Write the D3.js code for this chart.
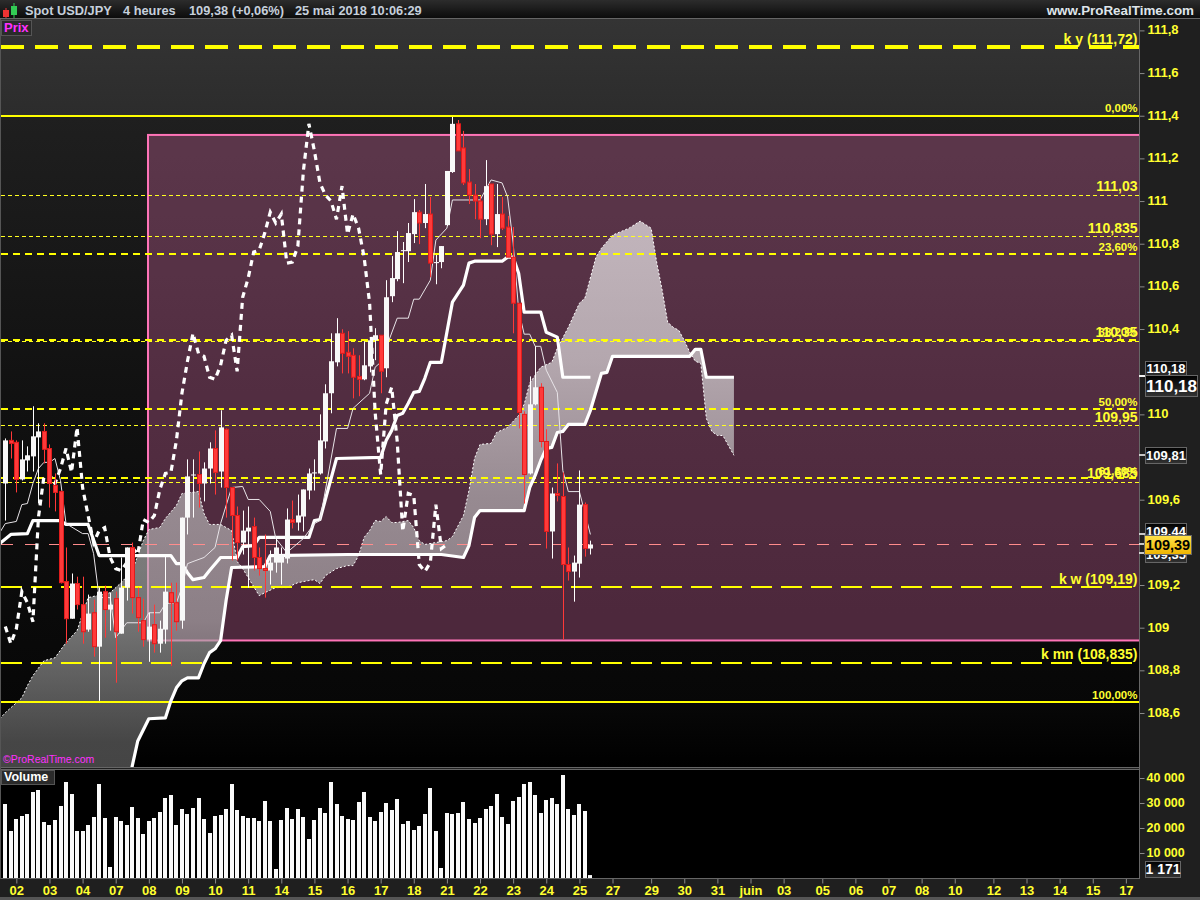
<!DOCTYPE html>
<html><head><meta charset="utf-8">
<script src="https://cdnjs.cloudflare.com/ajax/libs/d3/7.8.5/d3.min.js"></script>
<style>html,body{margin:0;padding:0;background:#1f1f1f}svg{display:block}text{font-family:"Liberation Sans",Arial,sans-serif}</style>
</head><body><svg id="c" width="1200" height="900"></svg>
<script>
// ---------- data ----------
const opens=[109.676,109.878,109.869,109.695,109.784,109.803,109.892,109.920,109.840,109.667,109.638,109.216,109.042,109.207,109.108,108.991,109.070,108.911,109.169,109.085,109.136,108.972,109.188,109.376,109.141,109.033,108.944,109.014,108.925,108.991,109.164,109.117,109.033,109.516,109.714,109.718,109.676,109.746,109.840,109.732,109.930,109.657,109.526,109.399,109.451,109.474,109.329,109.277,109.268,109.305,109.305,109.324,109.507,109.493,109.521,109.643,109.723,109.723,109.873,110.099,110.244,110.380,110.291,110.277,110.178,110.164,110.225,110.347,110.371,110.216,110.554,110.634,110.765,110.765,110.845,110.948,110.897,110.939,110.709,110.714,110.887,111.136,111.362,111.249,111.089,111.028,111.000,110.915,111.080,110.845,110.939,110.878,110.737,110.521,110.000,109.723,110.047,110.127,109.873,109.451,109.629,109.615,109.296,109.263,109.300,109.577,109.371];
const highs=[109.887,109.920,109.878,109.878,109.850,110.038,109.958,109.958,109.859,109.723,109.643,109.376,109.254,109.239,109.239,109.155,109.131,109.188,109.197,109.164,109.169,109.329,109.376,109.399,109.188,109.136,109.070,109.108,109.033,109.334,109.211,109.211,109.516,109.789,109.789,109.826,109.775,109.869,109.925,110.019,109.934,109.657,109.568,109.549,109.568,109.516,109.376,109.437,109.362,109.423,109.376,109.559,109.596,109.624,109.648,109.746,109.789,110.000,110.141,110.380,110.451,110.399,110.390,110.310,110.277,110.343,110.347,110.404,110.371,110.629,110.742,110.859,110.808,110.897,111.009,110.958,111.080,111.019,110.747,110.789,111.141,111.394,111.380,111.329,111.150,111.080,111.024,111.192,111.080,111.080,111.019,110.930,110.878,110.521,110.014,110.178,110.319,110.146,109.930,109.657,109.770,109.728,109.376,109.338,109.737,109.587,109.408];
const lows=[109.502,109.793,109.634,109.690,109.732,109.732,109.582,109.770,109.563,109.545,109.207,108.925,109.042,109.085,108.925,108.981,108.864,108.657,108.953,108.986,108.742,108.972,109.127,109.066,108.981,108.911,108.840,108.883,108.883,108.925,108.821,108.986,108.995,109.437,109.516,109.563,109.592,109.676,109.624,109.657,109.516,109.315,109.315,109.343,109.188,109.268,109.244,109.141,109.202,109.258,109.202,109.301,109.465,109.455,109.451,109.601,109.643,109.718,109.840,110.005,110.225,110.192,110.192,110.075,110.085,110.160,110.197,110.254,110.099,110.174,110.526,110.624,110.615,110.714,110.803,110.798,110.873,110.643,110.610,110.685,110.883,111.132,111.235,111.075,110.986,110.915,110.826,110.887,110.793,110.784,110.864,110.737,110.380,109.934,109.582,109.718,110.042,109.845,109.371,109.324,109.592,108.944,109.221,109.122,109.235,109.333,109.343];
const closes=[109.878,109.864,109.695,109.789,109.808,109.897,109.920,109.836,109.676,109.634,109.211,109.042,109.207,109.108,108.981,109.066,108.911,109.169,109.085,109.108,108.981,109.188,109.376,109.141,109.047,108.944,109.005,108.925,108.995,109.169,109.117,109.028,109.516,109.709,109.718,109.676,109.746,109.840,109.728,109.939,109.657,109.526,109.399,109.455,109.469,109.329,109.277,109.268,109.305,109.376,109.343,109.507,109.493,109.526,109.648,109.723,109.728,109.878,110.099,110.249,110.380,110.286,110.272,110.174,110.164,110.230,110.347,110.371,110.202,110.549,110.639,110.761,110.770,110.850,110.948,110.897,110.939,110.709,110.714,110.789,111.141,111.362,111.235,111.085,111.028,111.000,110.915,111.070,110.845,110.939,110.873,110.737,110.521,110.009,109.718,110.047,110.127,109.873,109.451,109.629,109.620,109.296,109.263,109.305,109.577,109.371,109.390];
const volumes=[29600,18800,23600,24800,25600,34400,35200,22400,21200,23200,28800,38400,33600,18800,18800,21200,24400,37600,24000,4400,24400,22800,21200,28400,24000,17600,22800,24000,26400,32000,33200,21200,27600,25600,28000,32000,23600,18000,24800,25200,27600,37600,27200,24800,24000,24000,22800,30800,22800,3600,23200,28000,23600,27600,24400,15600,23200,28000,26000,38400,29600,24800,23600,23200,30400,34400,24400,22800,26400,30000,27200,31600,21600,22800,19200,20800,25600,36000,18800,4000,26000,25600,26000,30400,23600,22000,24000,27600,28800,33600,24400,21600,30800,32400,37600,38400,33200,26000,31200,32000,29600,41200,27600,25200,29600,26800,1171];
const chikouValues=[109.005,108.925,108.995,109.169,109.117,109.028,109.516,109.709,109.718,109.676,109.746,109.840,109.728,109.939,109.657,109.526,109.399,109.455,109.469,109.329,109.277,109.268,109.305,109.376,109.343,109.507,109.493,109.526,109.648,109.723,109.728,109.878,110.099,110.249,110.380,110.286,110.272,110.174,110.164,110.230,110.347,110.371,110.202,110.549,110.639,110.761,110.770,110.850,110.948,110.897,110.939,110.709,110.714,110.789,111.141,111.362,111.235,111.085,111.028,111.000,110.915,111.070,110.845,110.939,110.873,110.737,110.521,110.009,109.718,110.047,110.127,109.873,109.451,109.629,109.620,109.296,109.263,109.305,109.577,109.371,109.390];
const kijunIdx=[-1,1,4,5,10,11,15,17,30,31,32,33,34,36,37,39,42,43,45,46,55,56,57,60,68,69,70,71,72,73,74,75,76,77,79,81,83,84,85,90,91,92,93,94,97,98,100,101,106];
const kijunVal=[109.394,109.437,109.441,109.502,109.502,109.484,109.484,109.338,109.338,109.300,109.300,109.258,109.225,109.235,109.268,109.329,109.329,109.380,109.385,109.423,109.423,109.502,109.507,109.793,109.798,109.878,109.925,109.995,110.005,110.052,110.103,110.108,110.169,110.244,110.244,110.526,110.606,110.709,110.718,110.718,110.737,110.737,110.662,110.479,110.479,110.385,110.362,110.174,110.174];
const tenkanIdx=[-1,0,2,3,4,5,6,7,8,9,10,11,14,15,16,17,19,20,22,25,26,28,29,31,32,33,34,36,38,39,41,43,44,46,48,49,51,54,56,57,60,62,63,66,67,68,71,73,74,75,77,78,80,81,86,88,90,91,92,93,94,95,96,97,98,100,101,102,104,106];
const tenkanVal=[109.446,109.488,109.498,109.577,109.582,109.676,109.746,109.775,109.775,109.793,109.690,109.488,109.441,109.441,109.347,109.141,109.141,108.953,109.023,109.023,109.070,109.070,109.113,109.117,109.188,109.300,109.310,109.329,109.376,109.488,109.657,109.662,109.601,109.601,109.545,109.418,109.352,109.418,109.488,109.502,109.934,109.934,110.028,110.099,110.221,110.244,110.451,110.451,110.540,110.540,110.629,110.817,110.873,111.005,111.005,111.099,111.085,111.019,110.803,110.488,110.376,110.376,110.319,110.319,110.207,110.103,109.737,109.638,109.638,109.437];
const spanAIdx=[-1,0,3,4,5,7,9,11,13,15,19,21,23,25,26,28,29,31,32,35,36,37,39,41,42,43,44,46,47,49,51,53,55,56,57,58,60,62,63,64,65,66,67,68,69,70,71,73,74,75,76,80,81,83,84,85,86,88,89,91,93,94,95,97,99,100,102,104,105,107,108,110,113,115,117,118,119,120,121,122,123,124,125,126,127,128,129,130,131,132];
const spanAVal=[108.573,108.601,108.671,108.728,108.775,108.845,108.859,108.930,108.986,109.141,109.164,109.211,109.268,109.408,109.460,109.470,109.512,109.573,109.629,109.638,109.535,109.484,109.484,109.455,109.310,109.277,109.235,109.150,109.164,109.188,109.188,109.211,109.221,109.225,109.207,109.244,109.277,109.291,109.291,109.338,109.423,109.455,109.502,109.498,109.521,109.493,109.493,109.502,109.469,109.408,109.390,109.408,109.427,109.526,109.643,109.793,109.859,109.864,109.915,109.939,109.995,110.047,110.146,110.221,110.244,110.310,110.408,110.521,110.545,110.737,110.779,110.840,110.873,110.906,110.873,110.714,110.582,110.432,110.408,110.394,110.347,110.291,110.249,110.239,109.981,109.920,109.901,109.901,109.854,109.808];
const spanBIdx=[-1,22,23,24,26,29,30,31,32,33,35,36,37,38,39,40,41,47,48,62,79,83,84,85,86,94,95,96,97,98,99,100,101,102,105,106,108,109,110,124,125,126,127,132];
const spanBVal=[108.0,108.2,108.352,108.469,108.573,108.577,108.657,108.718,108.751,108.765,108.765,108.831,108.883,108.901,108.939,109.127,109.282,109.286,109.338,109.343,109.343,109.329,109.385,109.516,109.549,109.549,109.657,109.714,109.784,109.840,109.845,109.915,109.920,109.953,109.953,110.019,110.192,110.197,110.272,110.272,110.305,110.305,110.174,110.174];
const rectTop=111.31, rectBottom=108.94, rectStartIdx=26, lastPrice=109.39;
const solidLevels=[111.4,108.65];
const longDashLevels=[111.72,109.19,108.835];
const fiboLevels=[110.75,110.35,110.025,109.70];
const thinLevels=[111.03,110.835,110.345,109.95,109.685];
const levelLabelPrices=[111.72,111.4,111.03,110.835,110.75,110.35,110.345,110.025,109.95,109.70,109.685,109.19,108.835,108.65];
const levelLabelTexts=["k y (111,72)","0,00%","111,03","110,835","23,60%","38,20%","110,35","50,00%","109,95","61,80%","109,685","k w (109,19)","k mn (108,835)","100,00%"];
const priceTicks=[111.8,111.6,111.4,111.2,111,110.8,110.6,110.4,110,109.6,109.2,109,108.8,108.6];
const volumeTicks=[40000,30000,20000,10000];
const dayTickIdx=[2,8,14,20,26,32,38,44,50,56,62,68,74,80,86,92,98,104,110,117,123,129,135,141,148,154,160,166,172,179,185,191,197,203];
const dayTickLabels=["02","03","04","07","08","09","10","11","14","15","16","17","18","21","22","23","24","25","27","29","30","31","juin","03","05","06","07","08","10","12","13","14","15","17"];
// ---------- scales ----------
const W=1139, priceTop=19, priceBottom=767, volTop=770, volBottom=878;
const x=d3.scaleLinear().domain([-1,205]).range([-0.22,1136.9]);
const y=d3.scaleLinear().domain([108.6,111.8]).range([713,30.4]);
const yv=d3.scaleLinear().domain([0,40000]).range([878,778]);
const svg=d3.select("#c");
const defs=svg.append("defs");
function grad(id,stops,units){const g=defs.append("linearGradient").attr("id",id).attr("x1",0).attr("y1",0).attr("x2",0).attr("y2",1);
 if(units){g.attr("gradientUnits","userSpaceOnUse").attr("y1",units[0]).attr("y2",units[1]);}
 stops.forEach(s=>{const st=g.append("stop").attr("offset",s[0]).attr("stop-color",s[1]); if(s[2]!=null)st.attr("stop-opacity",s[2]);});}
grad("bg",[[0,"#343434"],[0.13,"#2c2c2c"],[0.1301,"#1f1f1f"],[0.5,"#111"],[0.92,"#070707"],[1,"#000"]],[19,767]);
grad("head",[[0,"#2c2c2c"],[1,"#0c0c0c"]]);
grad("box",[[0,"#000"],[1,"#333"]]);
grad("gold",[[0,"#ffe24a"],[1,"#f0b400"]]);
grad("cloud",[[0.045,"#f8f8f8",0.65],[0.26,"#e8e8e8",0.65],[0.51,"#bdbdbd",0.65],[0.73,"#aeaeae",0.65],[0.95,"#6a6a6a",0.65]],[215,770]);
defs.append("clipPath").attr("id","pc").append("rect").attr("x",0).attr("y",priceTop).attr("width",W).attr("height",priceBottom-priceTop);
// frame
svg.append("rect").attr("width",1200).attr("height",900).attr("fill","#1f1f1f");
svg.append("rect").attr("width",1200).attr("height",18).attr("fill","url(#head)");
svg.append("rect").attr("x",0).attr("y",18).attr("width",1200).attr("height",1).attr("fill","#666");
svg.append("rect").attr("x",1).attr("y",priceTop).attr("width",W-1).attr("height",priceBottom-priceTop).attr("fill","url(#bg)");
svg.append("rect").attr("x",1).attr("y",volTop).attr("width",W-1).attr("height",volBottom-volTop).attr("fill","#000");
svg.append("rect").attr("x",0).attr("y",897).attr("width",1200).attr("height",3).attr("fill","#555");
const plot=svg.append("g").attr("clip-path","url(#pc)");
// pink zone
const rx=Math.round(x(rectStartIdx))-1;
plot.append("rect").attr("x",rx).attr("y",y(rectTop)).attr("width",W-rx+5).attr("height",y(rectBottom)-y(rectTop))
 .attr("fill","rgb(235,113,180)").attr("fill-opacity",0.3);
plot.append("rect").attr("x",rx).attr("y",y(rectTop)).attr("width",W-rx+5).attr("height",y(rectBottom)-y(rectTop))
 .attr("fill","none").attr("stroke","#ff74b8").attr("stroke-width",2);
// cloud
const pts=(idx,val)=>idx.map((d,i)=>[d,val[i]]);
const spanA=pts(spanAIdx,spanAVal), spanB=pts(spanBIdx,spanBVal);
const line=d3.line().x(d=>x(d[0])).y(d=>y(d[1]));
plot.append("path").attr("d",line(spanA.concat(spanB.slice().reverse()))+"Z").attr("fill","url(#cloud)");
plot.append("path").attr("d",line(spanA)).attr("fill","none").attr("stroke","#fff").attr("stroke-width",1).attr("stroke-dasharray","2 2");
// levels
function hline(p,sw,col,dash){const o=Math.round(sw)%2?0.5:0, yy=Math.round(y(p))+o;
 plot.append("line").attr("x1",1).attr("x2",W).attr("y1",yy).attr("y2",yy)
 .attr("stroke",col).attr("stroke-width",sw).attr("stroke-dasharray",dash||null);}
hline(lastPrice,1,"#ff8c8c","12 12");
solidLevels.forEach(p=>hline(p,2,"#ffff00"));
longDashLevels.forEach((p,i)=>hline(p,i==0?4:2,"#ffff00",i==0?"23 11":"21 9"));
fiboLevels.forEach(p=>hline(p,2,"#ffff00","7 5"));
thinLevels.forEach(p=>hline(p,1,"#ffff20","4 3"));
// ichimoku lines
plot.append("path").attr("d",line(spanB)).attr("fill","none").attr("stroke","#fff").attr("stroke-width",3.2).attr("stroke-linejoin","round");
plot.append("path").attr("d",line(pts(kijunIdx,kijunVal))).attr("fill","none").attr("stroke","#fff").attr("stroke-width",3.2).attr("stroke-linejoin","round");
plot.append("path").attr("d",line(pts(tenkanIdx,tenkanVal))).attr("fill","none").attr("stroke","#e8e4e8").attr("stroke-width",1);
plot.append("path").attr("d",line(chikouValues.map((v,i)=>[i,v]))).attr("fill","none").attr("stroke","#fff").attr("stroke-width",3.2).attr("stroke-dasharray","6 5");
// candles
const candles=opens.map((o,i)=>({i,o,h:highs[i],l:lows[i],c:closes[i]}));
const cg=plot.append("g").selectAll("g").data(candles).join("g");
const up=d=>d.c>=d.o, cx=d=>Math.round(x(d.i));
cg.append("line").attr("x1",d=>cx(d)+.5).attr("x2",d=>cx(d)+.5).attr("y1",d=>y(d.h)).attr("y2",d=>y(d.l))
 .attr("stroke",d=>up(d)?"#fff":"#ff3838").attr("stroke-width",1);
cg.append("rect").attr("x",d=>cx(d)-2+(up(d)?0:0.5)).attr("width",d=>up(d)?5:4)
 .attr("y",d=>y(Math.max(d.o,d.c))).attr("height",d=>Math.max(1,y(Math.min(d.o,d.c))-y(Math.max(d.o,d.c))))
 .attr("fill",d=>up(d)?"#f8f8f8":"#ff3a3a").attr("stroke",d=>up(d)?"none":"#e01c1c").attr("stroke-width",1);
// level labels
const lbl=svg.append("g");
levelLabelTexts.forEach((t,i)=>{const pct=t.includes("%");
 lbl.append("text").attr("x",1137.5).attr("y",y(levelLabelPrices[i])-3.5).attr("text-anchor","end")
  .attr("fill","#ffff30").attr("font-size",pct?11.5:14).attr("font-weight","bold").text(t);});
// volumes
svg.append("g").selectAll("rect").data(volumes).join("rect")
 .attr("x",(d,i)=>Math.round(x(i))-2).attr("width",4).attr("y",d=>yv(d)).attr("height",d=>volBottom-yv(d)).attr("fill","#fafafa");
// axes
function style(g,size,dy){g.select(".domain").remove();g.selectAll("line").attr("stroke","#8a8a8a");
 g.selectAll("text").attr("fill","#ffff30").attr("font-size",size).attr("font-weight","bold").attr("font-family","Liberation Sans");
 if(dy)g.selectAll("text").attr("transform",`translate(0,${dy})`);}
const comma=d=>String(d).replace(".",",");
const fr=d3.formatLocale({decimal:",",thousands:" ",grouping:[3],currency:["","€"]});
svg.append("g").attr("transform",`translate(${W+0.5},0)`).call(d3.axisRight(y).tickValues(priceTicks).tickSize(5).tickPadding(3).tickFormat(comma)).call(g=>style(g,13,-0.7));
svg.append("g").attr("transform",`translate(${W+0.5},0)`).call(d3.axisRight(yv).tickValues(volumeTicks).tickSize(5).tickPadding(2).tickFormat(fr.format(",d"))).call(g=>style(g,12.5,-0.7));
svg.append("g").attr("transform",`translate(0,${volBottom+0.5})`).call(d3.axisBottom(x).tickValues(dayTickIdx).tickSize(5).tickPadding(2).tickFormat((d,i)=>dayTickLabels[i])).call(g=>style(g,13));
// separators
[[0,767,W+1,1],[0,769,W+1,1],[0,878,W+1,1]].forEach(r=>svg.append("rect").attr("x",r[0]).attr("y",r[1]).attr("width",r[2]).attr("height",r[3]).attr("fill","#666"));
svg.append("rect").attr("x",W).attr("y",19).attr("width",1).attr("height",860).attr("fill","#666");
svg.append("rect").attr("x",0).attr("y",19).attr("width",1).attr("height",860).attr("fill","#555");
// value boxes
function box(bx,by,bw,bh,txt,size,fill,col,p){
 if(p!=null)svg.append("line").attr("x1",W).attr("x2",W+6).attr("y1",Math.round(y(p))).attr("y2",Math.round(y(p))).attr("stroke","#fff").attr("stroke-width",1.5);
 svg.append("rect").attr("x",bx+.5).attr("y",by+.5).attr("width",bw).attr("height",bh).attr("fill",fill).attr("stroke","#666");
 svg.append("text").attr("x",bx+bw/2+.5).attr("y",by+bh/2+size*.36).attr("text-anchor","middle").attr("font-size",size).attr("font-weight","bold").attr("fill",col).text(txt);}
box(1145,361,41,15,"110,18",13,"url(#box)","#fff",110.18);
box(1145,375,52,21,"110,18",17,"url(#box)","#fff",110.18);
box(1145,447,41,16,"109,81",13,"url(#box)","#fff",109.81);
box(1145,523,41,16,"109,44",13,"url(#box)","#fff",109.44);
box(1145,547,41,15,"109,35",13,"url(#box)","#fff",109.35);
box(1144,535,47,19,"109,39",14.5,"url(#gold)","#000",109.39);
box(1145,861,35,16,"1 171",14,"url(#box)","#fff");
// header
svg.append("rect").attr("x",3).attr("y",10).attr("width",6).attr("height",7).attr("fill","#e33");
svg.append("rect").attr("x",11).attr("y",6).attr("width",6).attr("height",9).attr("fill","#3c5");
svg.append("line").attr("x1",14).attr("x2",14).attr("y1",3).attr("y2",18).attr("stroke","#3c5");
svg.append("line").attr("x1",6).attr("x2",6).attr("y1",8).attr("y2",18).attr("stroke","#e33");
[["Spot USD/JPY",25],["4 heures",123],["109,38 (+0,06%)",189],["25 mai 2018 10:06:29",295]].forEach(d=>
 svg.append("text").attr("x",d[1]).attr("y",14.5).attr("font-size",12.8).attr("font-weight","bold").attr("fill","#c6d0dc").text(d[0]));
svg.append("text").attr("x",1194).attr("y",14.5).attr("text-anchor","end").attr("font-size",13.4).attr("font-weight","bold").attr("fill","#dfe5ea").text("www.ProRealTime.com");
function tag(bx,by,bw,bh,txt,col,size){svg.append("rect").attr("x",bx+.5).attr("y",by+.5).attr("width",bw).attr("height",bh).attr("fill","#2a2a2a").attr("stroke","#555");
 svg.append("text").attr("x",bx+3).attr("y",by+bh-3.5).attr("font-size",size).attr("font-weight","bold").attr("fill",col).text(txt);}
tag(1,20,30,15,"Prix","#ff30ff",13);
tag(1,770,53,14,"Volume","#fff",12.5);
svg.append("text").attr("x",3).attr("y",763).attr("font-size",10.5).attr("fill","#ff30ff").text("©ProRealTime.com");
</script></body></html>
